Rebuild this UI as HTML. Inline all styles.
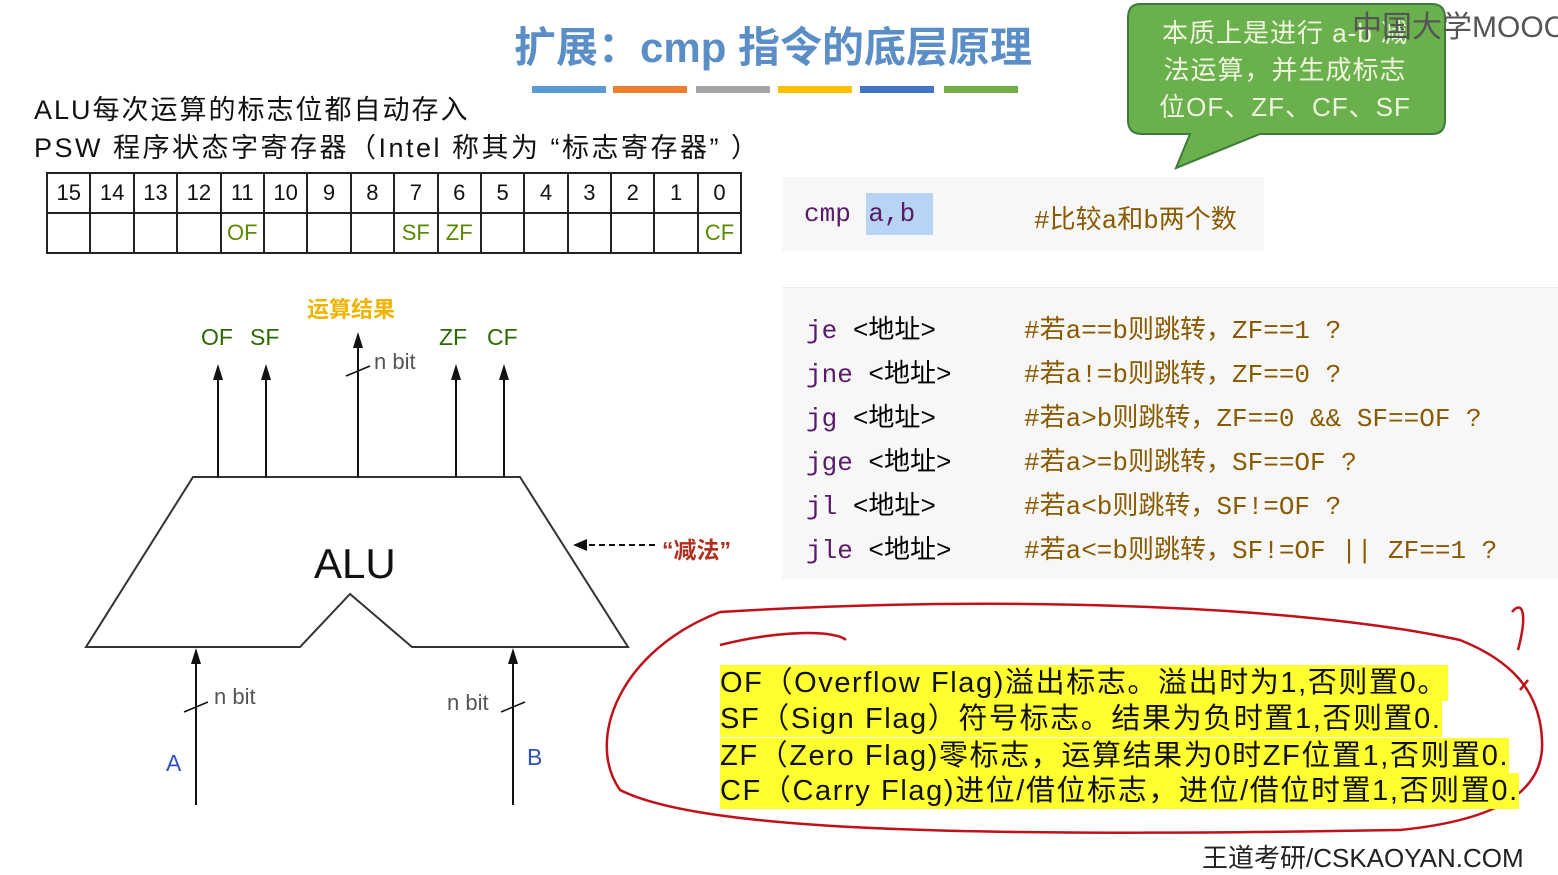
<!DOCTYPE html>
<html><head><meta charset="utf-8"><style>
body{margin:0;width:1558px;height:867px;background:#fff;position:relative;overflow:hidden;font-family:"Liberation Sans","Noto Sans CJK SC",sans-serif}
.a{position:absolute;white-space:nowrap}
table{border-collapse:collapse;position:absolute;left:46px;top:172px}
td{border:2px solid #222;width:41.4px;height:38px;text-align:center;font-size:22px;padding:0;color:#111}
td.g{color:#5a8a00}
.code{position:absolute;background:#f7f7f7;border-top:1px solid #eee}
.m{font-family:"Liberation Mono","Noto Sans CJK SC",monospace;font-size:26px}
.k{color:#5a1a6a}.c{color:#8a5a00}
.hl{background:#ffff30;font-size:29px;color:#111;line-height:36px;letter-spacing:1.6px}
</style></head><body>
<div class="a" style="left:514px;top:14px;font-size:42px;font-weight:bold;color:#5b8ec7">扩展：cmp 指令的底层原理</div>
<div class="a" style="left:532px;top:86px;width:74px;height:7px;background:#5b9bd5"></div>
<div class="a" style="left:613px;top:86px;width:74px;height:7px;background:#ed7d31"></div>
<div class="a" style="left:696px;top:86px;width:74px;height:7px;background:#a5a5a5"></div>
<div class="a" style="left:778px;top:86px;width:74px;height:7px;background:#ffc000"></div>
<div class="a" style="left:860px;top:86px;width:74px;height:7px;background:#4472c4"></div>
<div class="a" style="left:944px;top:86px;width:74px;height:7px;background:#70ad47"></div>
<div class="a" style="left:34px;top:88px;font-size:27px;color:#111;letter-spacing:2px">ALU每次运算的标志位都自动存入</div>
<div class="a" style="left:34px;top:126px;font-size:27px;color:#111;letter-spacing:2.5px">PSW 程序状态字寄存器（Intel 称其为 “标志寄存器” ）</div>
<table><tr><td>15</td><td>14</td><td>13</td><td>12</td><td>11</td><td>10</td><td>9</td><td>8</td><td>7</td><td>6</td><td>5</td><td>4</td><td>3</td><td>2</td><td>1</td><td>0</td></tr>
<tr><td></td><td></td><td></td><td></td><td class="g">OF</td><td></td><td></td><td></td><td class="g">SF</td><td class="g">ZF</td><td></td><td></td><td></td><td></td><td></td><td class="g">CF</td></tr></table>

<svg class="a" style="left:0;top:0" width="1558" height="867">
<path d="M1140,4 H1432 Q1445,4 1445,18 V120 Q1445,134 1432,134 H1260 L1176,168 L1190,134 H1142 Q1128,134 1128,120 V18 Q1128,4 1140,4 Z" fill="#6ab04c" stroke="#3d7a3a" stroke-width="2"/>
<polygon points="193,477 520,477 628,647 412,647 350,594 300,647 86,647" fill="#fff" stroke="#333" stroke-width="2"/>
<g stroke="#111" stroke-width="2">
<line x1="218" y1="477" x2="218" y2="370"/><line x1="266" y1="477" x2="266" y2="370"/>
<line x1="358" y1="477" x2="358" y2="340"/><line x1="456" y1="477" x2="456" y2="370"/>
<line x1="504" y1="477" x2="504" y2="370"/>
<line x1="196" y1="805" x2="196" y2="655"/><line x1="513" y1="805" x2="513" y2="655"/>
</g>
<g fill="#111">
<path d="M218,364 L213,380 L223,380Z"/><path d="M266,364 L261,380 L271,380Z"/>
<path d="M358,332 L353,348 L363,348Z"/><path d="M456,364 L451,380 L461,380Z"/>
<path d="M504,364 L499,380 L509,380Z"/>
<path d="M196,648 L191,664 L201,664Z"/><path d="M513,648 L508,664 L518,664Z"/>
</g>
<g stroke="#111" stroke-width="1.5"><line x1="346" y1="376" x2="370" y2="366"/><line x1="184" y1="712" x2="208" y2="702"/><line x1="501" y1="712" x2="525" y2="702"/></g>
<line x1="655" y1="545" x2="585" y2="545" stroke="#111" stroke-width="2" stroke-dasharray="6,4"/>
<path d="M573,545 L587,539 L587,551 Z" fill="#111"/>
<path d="M720,645 C780,630 835,630 846,640 M720,612 C620,650 585,740 620,790 C700,830 950,838 1400,830 C1500,820 1545,790 1542,740 C1540,690 1510,660 1460,640 C1300,605 1000,595 720,612 M1512,612 C1522,600 1528,612 1518,650 M1520,690 L1528,680" fill="none" stroke="#c0101a" stroke-width="2.5"/>
</svg>
<div class="a" style="left:1130px;top:15px;width:310px;text-align:center;font-size:26px;line-height:37px;color:#eef6dd;letter-spacing:1px">本质上是进行 a-b 减<br>法运算，并生成标志<br>位OF、ZF、CF、SF</div>
<div class="a" style="left:1352px;top:2px;font-size:30px;color:#555">中国大学MOOC</div>
<div class="a" style="left:307px;top:292px;font-size:22px;color:#f0b400;font-weight:bold">运算结果</div>
<div class="a" style="left:201px;top:324px;font-size:23px;color:#2a6a00">OF</div>
<div class="a" style="left:250px;top:324px;font-size:23px;color:#2a6a00">SF</div>
<div class="a" style="left:439px;top:324px;font-size:23px;color:#2a6a00">ZF</div>
<div class="a" style="left:487px;top:324px;font-size:23px;color:#2a6a00">CF</div>
<div class="a" style="left:374px;top:349px;font-size:22px;color:#555">n bit</div>
<div class="a" style="left:314px;top:540px;font-size:42px;color:#111">ALU</div>
<div class="a" style="left:662px;top:531px;font-size:23px;color:#b03020;font-weight:bold">“减法”</div>
<div class="a" style="left:214px;top:684px;font-size:22px;color:#555">n bit</div>
<div class="a" style="left:447px;top:690px;font-size:22px;color:#555">n bit</div>
<div class="a" style="left:166px;top:750px;font-size:23px;color:#3050c0">A</div>
<div class="a" style="left:527px;top:744px;font-size:23px;color:#3050c0">B</div>

<div class="code" style="left:782px;top:178px;width:482px;height:72px"></div>
<div class="a m" style="left:804px;top:199px"><span class="k">cmp </span><span class="k" style="background:#b8d4f4;padding:6px 18px 6px 2px">a,b</span></div>
<div class="a m c" style="left:1034px;top:199px">#比较a和b两个数</div>
<div class="code" style="left:782px;top:287px;width:776px;height:291px"></div>
<div class="a m" style="left:806px;top:309px;line-height:44px"><span class="k">je</span> &lt;地址&gt;<br><span class="k">jne</span> &lt;地址&gt;<br><span class="k">jg</span> &lt;地址&gt;<br><span class="k">jge</span> &lt;地址&gt;<br><span class="k">jl</span> &lt;地址&gt;<br><span class="k">jle</span> &lt;地址&gt;</div>
<div class="a m c" style="left:1024px;top:309px;line-height:44px">#若a==b则跳转，ZF==1 ?<br>#若a!=b则跳转，ZF==0 ?<br>#若a&gt;b则跳转，ZF==0 &amp;&amp; SF==OF ?<br>#若a&gt;=b则跳转，SF==OF ?<br>#若a&lt;b则跳转，SF!=OF ?<br>#若a&lt;=b则跳转，SF!=OF || ZF==1 ?</div>

<div class="a hl" style="left:720px;top:665px">OF（Overflow Flag)溢出标志。溢出时为1,否则置0。</div>
<div class="a hl" style="left:720px;top:701px">SF（Sign Flag）符号标志。结果为负时置1,否则置0.</div>
<div class="a hl" style="left:720px;top:738px">ZF（Zero Flag)零标志，运算结果为0时ZF位置1,否则置0.</div>
<div class="a hl" style="left:720px;top:773px">CF（Carry Flag)进位/借位标志，进位/借位时置1,否则置0.</div>
<div class="a" style="left:1202px;top:838px;font-size:26px;color:#222">王道考研/CSKAOYAN.COM</div>
</body></html>
